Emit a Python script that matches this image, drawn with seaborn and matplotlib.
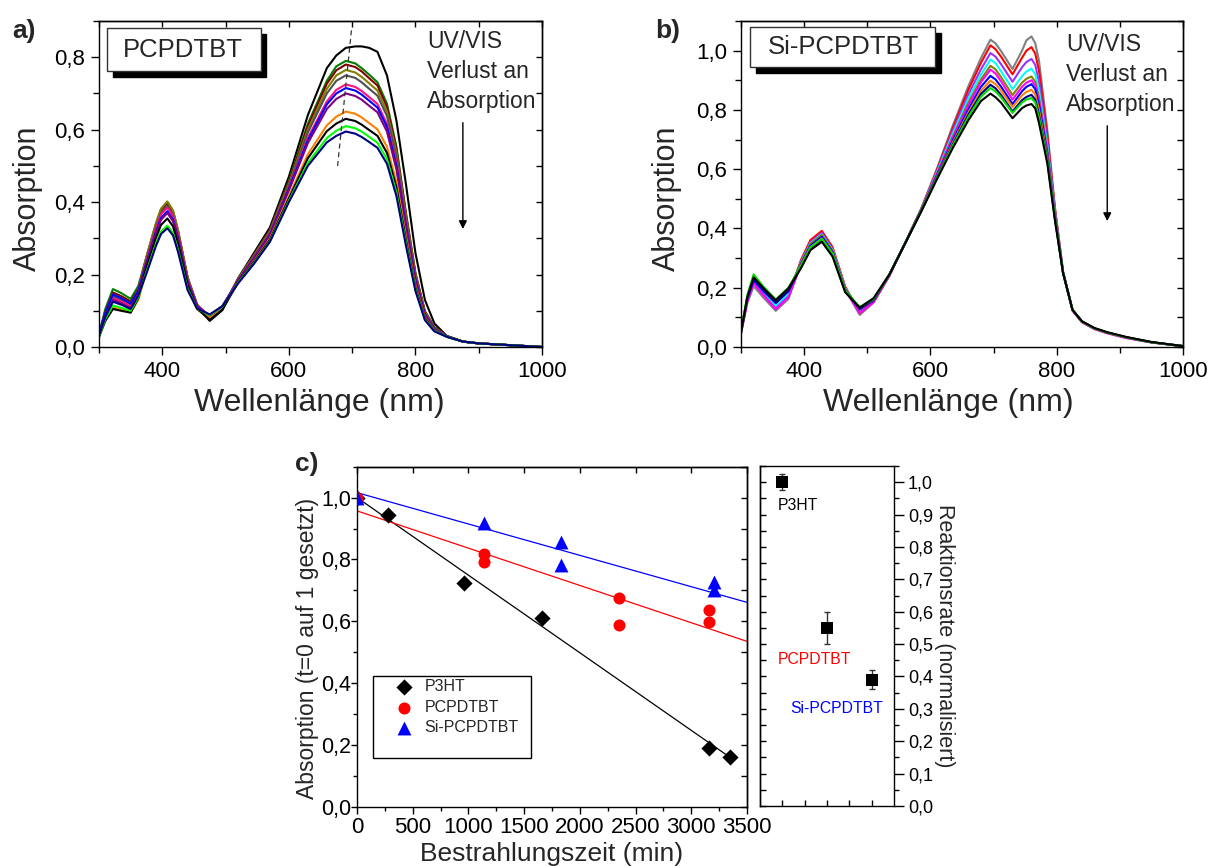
import matplotlib
matplotlib.use("Agg")
import numpy as np
import pandas as pd
import matplotlib.pyplot as plt
import seaborn as sns
from matplotlib.ticker import MultipleLocator, FuncFormatter, FixedLocator
from matplotlib.patches import Rectangle

# ---------------- panel a: PCPDTBT spectra ----------------
wl_a = [300, 310, 322, 335, 350, 362, 375, 390, 398, 408, 417, 425, 440, 455, 475, 495, 520,
        545, 570, 600, 630, 660, 675, 690, 705,
        715, 727, 740, 755, 770, 785, 800, 815, 830, 850, 875, 900, 950, 1000]
a_01 = [0.03, 0.10, 0.15, 0.14, 0.125, 0.16, 0.242, 0.332, 0.37, 0.39, 0.365, 0.312, 0.187, 0.113, 0.072, 0.102, 0.19,
        0.26, 0.33, 0.47, 0.64, 0.77, 0.805, 0.826, 0.83,
        0.83, 0.826, 0.815, 0.75, 0.625, 0.45, 0.26, 0.13, 0.065, 0.03, 0.015, 0.01, 0.005, 0.0]
a_02 = [0.035, 0.105, 0.16, 0.149, 0.133, 0.168, 0.248, 0.34, 0.38, 0.40, 0.375, 0.32, 0.192, 0.116, 0.075, 0.105, 0.19,
        0.255, 0.323, 0.458, 0.616, 0.735, 0.775, 0.79, 0.783,
        0.77, 0.752, 0.731, 0.672, 0.553, 0.371, 0.205, 0.099, 0.055, 0.03, 0.015, 0.01, 0.005, 0.0]
a_03 = [0.03, 0.098, 0.15, 0.14, 0.125, 0.16, 0.247, 0.338, 0.378, 0.398, 0.373, 0.318, 0.191, 0.116, 0.078, 0.107, 0.188,
        0.254, 0.322, 0.455, 0.61, 0.727, 0.764, 0.78, 0.773,
        0.761, 0.742, 0.722, 0.663, 0.546, 0.367, 0.203, 0.098, 0.054, 0.03, 0.015, 0.01, 0.005, 0.0]
a_04 = [0.03, 0.095, 0.145, 0.135, 0.12, 0.157, 0.25, 0.342, 0.382, 0.402, 0.377, 0.322, 0.193, 0.118, 0.08, 0.108, 0.188,
        0.252, 0.319, 0.45, 0.60, 0.713, 0.75, 0.765, 0.758,
        0.746, 0.728, 0.708, 0.65, 0.536, 0.36, 0.199, 0.096, 0.053, 0.03, 0.015, 0.01, 0.005, 0.0]
a_05 = [0.03, 0.092, 0.14, 0.13, 0.117, 0.153, 0.242, 0.332, 0.37, 0.39, 0.365, 0.312, 0.187, 0.115, 0.08, 0.108, 0.186,
        0.25, 0.316, 0.446, 0.592, 0.70, 0.735, 0.75, 0.743,
        0.731, 0.713, 0.694, 0.638, 0.525, 0.353, 0.195, 0.094, 0.052, 0.03, 0.015, 0.01, 0.005, 0.0]
a_06 = [0.03, 0.09, 0.135, 0.126, 0.113, 0.15, 0.239, 0.327, 0.366, 0.385, 0.361, 0.308, 0.185, 0.115, 0.085, 0.112, 0.186,
        0.247, 0.312, 0.439, 0.577, 0.678, 0.71, 0.725, 0.718,
        0.707, 0.69, 0.671, 0.616, 0.508, 0.341, 0.189, 0.091, 0.05, 0.029, 0.015, 0.01, 0.005, 0.0]
a_07 = [0.035, 0.095, 0.145, 0.135, 0.12, 0.155, 0.233, 0.319, 0.356, 0.375, 0.352, 0.30, 0.18, 0.113, 0.085, 0.112, 0.184,
        0.245, 0.31, 0.436, 0.571, 0.67, 0.70, 0.715, 0.708,
        0.697, 0.68, 0.661, 0.608, 0.50, 0.336, 0.186, 0.089, 0.05, 0.029, 0.015, 0.01, 0.005, 0.0]
a_08 = [0.03, 0.086, 0.13, 0.121, 0.108, 0.146, 0.229, 0.315, 0.351, 0.37, 0.347, 0.296, 0.178, 0.112, 0.087, 0.113, 0.184,
        0.244, 0.308, 0.432, 0.563, 0.657, 0.685, 0.70, 0.693,
        0.683, 0.666, 0.648, 0.595, 0.49, 0.329, 0.182, 0.088, 0.049, 0.029, 0.015, 0.01, 0.005, 0.0]
a_09 = [0.028, 0.075, 0.11, 0.104, 0.095, 0.13, 0.208, 0.285, 0.318, 0.335, 0.314, 0.268, 0.161, 0.104, 0.08, 0.105, 0.178,
        0.237, 0.299, 0.416, 0.532, 0.612, 0.636, 0.65, 0.644,
        0.634, 0.618, 0.601, 0.553, 0.455, 0.306, 0.169, 0.081, 0.046, 0.028, 0.015, 0.01, 0.005, 0.0]
a_10 = [0.028, 0.072, 0.105, 0.10, 0.095, 0.135, 0.22, 0.302, 0.337, 0.355, 0.333, 0.284, 0.17, 0.106, 0.075, 0.103, 0.18,
        0.235, 0.296, 0.41, 0.521, 0.596, 0.617, 0.63, 0.624,
        0.614, 0.599, 0.583, 0.536, 0.441, 0.296, 0.164, 0.079, 0.045, 0.028, 0.015, 0.01, 0.005, 0.0]
a_11 = [0.03, 0.078, 0.115, 0.108, 0.10, 0.138, 0.208, 0.285, 0.318, 0.335, 0.314, 0.268, 0.161, 0.106, 0.088, 0.112, 0.178,
        0.232, 0.292, 0.404, 0.508, 0.577, 0.597, 0.61, 0.604,
        0.595, 0.58, 0.564, 0.519, 0.427, 0.287, 0.159, 0.076, 0.044, 0.028, 0.015, 0.01, 0.005, 0.0]
a_12 = [0.032, 0.083, 0.125, 0.117, 0.105, 0.142, 0.203, 0.279, 0.312, 0.328, 0.308, 0.262, 0.157, 0.106, 0.09, 0.113, 0.176,
        0.23, 0.29, 0.40, 0.50, 0.565, 0.583, 0.595, 0.589,
        0.58, 0.566, 0.55, 0.506, 0.417, 0.28, 0.155, 0.074, 0.043, 0.028, 0.015, 0.01, 0.005, 0.0]
spectra_a = [a_01, a_02, a_03, a_04, a_05, a_06, a_07, a_08, a_09, a_10, a_11, a_12]
colors_a = ["#000000", "#008000", "#800000", "#808000", "#505050", "#FF1080",
            "#0000FF", "#800080", "#FF8000", "#000000", "#00FF00", "#000080"]

# ---------------- panel b: Si-PCPDTBT spectra ----------------
wl_b = [300, 310, 320, 335, 355, 375, 395, 410, 428, 445, 465, 488,
        510, 535, 560, 585, 610, 635, 660, 680,
        695, 703, 712, 730, 745, 752, 760, 766, 772, 785, 797, 810, 825, 840, 860, 880, 910, 950, 1000]
b_01 = [0.045, 0.148, 0.205, 0.168, 0.122, 0.162, 0.281, 0.345, 0.375, 0.323, 0.195, 0.108,
        0.15, 0.24, 0.352, 0.465, 0.60, 0.745, 0.88, 0.975,
        1.037, 1.025, 0.998, 0.938, 1.0, 1.035, 1.048, 1.025, 0.965, 0.734, 0.476, 0.255, 0.125, 0.085, 0.062, 0.048, 0.032, 0.016, 0.003]
b_02 = [0.05, 0.158, 0.22, 0.18, 0.13, 0.17, 0.294, 0.361, 0.392, 0.337, 0.204, 0.115,
        0.152, 0.241, 0.352, 0.464, 0.596, 0.737, 0.868, 0.959,
        1.018, 1.005, 0.979, 0.92, 0.976, 1.0, 1.012, 0.99, 0.931, 0.716, 0.468, 0.254, 0.125, 0.085, 0.062, 0.048, 0.032, 0.016, 0.003]
b_03 = [0.05, 0.162, 0.225, 0.185, 0.135, 0.175, 0.289, 0.354, 0.385, 0.331, 0.2, 0.118,
        0.154, 0.242, 0.351, 0.463, 0.591, 0.727, 0.852, 0.937,
        0.992, 0.98, 0.954, 0.895, 0.944, 0.962, 0.972, 0.952, 0.894, 0.696, 0.46, 0.253, 0.125, 0.085, 0.062, 0.048, 0.032, 0.016, 0.003]
b_04 = [0.05, 0.164, 0.228, 0.189, 0.14, 0.18, 0.285, 0.35, 0.38, 0.327, 0.198, 0.122,
        0.155, 0.243, 0.351, 0.462, 0.587, 0.718, 0.838, 0.919,
        0.97, 0.958, 0.93, 0.87, 0.914, 0.93, 0.939, 0.92, 0.864, 0.68, 0.454, 0.252, 0.125, 0.085, 0.062, 0.048, 0.032, 0.016, 0.003]
b_05 = [0.05, 0.166, 0.23, 0.195, 0.15, 0.19, 0.284, 0.348, 0.378, 0.325, 0.197, 0.125,
        0.156, 0.243, 0.351, 0.461, 0.583, 0.709, 0.824, 0.903,
        0.949, 0.937, 0.91, 0.85, 0.892, 0.905, 0.913, 0.895, 0.84, 0.667, 0.449, 0.252, 0.125, 0.085, 0.062, 0.048, 0.032, 0.016, 0.003]
b_06 = [0.045, 0.155, 0.215, 0.176, 0.128, 0.168, 0.278, 0.34, 0.37, 0.318, 0.192, 0.115,
        0.152, 0.241, 0.351, 0.461, 0.581, 0.704, 0.816, 0.894,
        0.936, 0.923, 0.896, 0.835, 0.878, 0.892, 0.90, 0.883, 0.828, 0.66, 0.446, 0.25, 0.122, 0.083, 0.06, 0.046, 0.03, 0.015, 0.003]
b_07 = [0.05, 0.162, 0.225, 0.19, 0.148, 0.188, 0.279, 0.342, 0.372, 0.32, 0.193, 0.127,
        0.157, 0.244, 0.35, 0.46, 0.577, 0.695, 0.802, 0.878,
        0.915, 0.903, 0.878, 0.82, 0.863, 0.878, 0.887, 0.87, 0.816, 0.654, 0.443, 0.25, 0.125, 0.085, 0.062, 0.048, 0.032, 0.016, 0.003]
b_08 = [0.05, 0.169, 0.235, 0.198, 0.155, 0.195, 0.275, 0.337, 0.366, 0.315, 0.19, 0.13,
        0.158, 0.244, 0.35, 0.459, 0.573, 0.688, 0.791, 0.865,
        0.899, 0.887, 0.865, 0.81, 0.849, 0.861, 0.868, 0.852, 0.799, 0.644, 0.44, 0.25, 0.125, 0.085, 0.062, 0.048, 0.032, 0.016, 0.003]
b_09 = [0.05, 0.167, 0.232, 0.194, 0.15, 0.19, 0.27, 0.331, 0.36, 0.31, 0.187, 0.13,
        0.159, 0.245, 0.35, 0.458, 0.571, 0.682, 0.784, 0.854,
        0.885, 0.873, 0.85, 0.795, 0.833, 0.844, 0.851, 0.835, 0.783, 0.636, 0.436, 0.25, 0.125, 0.086, 0.063, 0.049, 0.033, 0.016, 0.003]
b_10 = [0.052, 0.176, 0.245, 0.205, 0.16, 0.2, 0.274, 0.336, 0.365, 0.314, 0.19, 0.135,
        0.162, 0.246, 0.35, 0.457, 0.569, 0.678, 0.777, 0.845,
        0.874, 0.862, 0.842, 0.79, 0.825, 0.835, 0.84, 0.825, 0.773, 0.63, 0.434, 0.25, 0.125, 0.086, 0.063, 0.049, 0.033, 0.016, 0.003]
b_11 = [0.05, 0.169, 0.235, 0.2, 0.158, 0.198, 0.266, 0.327, 0.355, 0.305, 0.185, 0.133,
        0.165, 0.245, 0.35, 0.455, 0.565, 0.67, 0.765, 0.83,
        0.855, 0.843, 0.824, 0.772, 0.806, 0.815, 0.82, 0.805, 0.755, 0.62, 0.43, 0.25, 0.125, 0.087, 0.064, 0.05, 0.034, 0.017, 0.003]
spectra_b = [b_01, b_02, b_03, b_04, b_05, b_06, b_07, b_08, b_09, b_10, b_11]
colors_b = ["#808080", "#FF0000", "#9933FF", "#00FFFF", "#808000", "#FF00FF",
            "#0000FF", "#FF8000", "#000080", "#00DD00", "#000000"]

# ---------------- panel c: normalised absorption vs. time ----------------
t_p3ht = [0, 282, 962, 1663, 3159, 3350]
abs_p3ht = [1.0, 0.944, 0.725, 0.610, 0.190, 0.162]
t_pcpdtbt = [0, 1139, 1139, 2352, 2352, 3159, 3159]
abs_pcpdtbt = [1.0, 0.817, 0.793, 0.675, 0.587, 0.635, 0.598]
t_si = [0, 1139, 1828, 1828, 3206, 3206]
abs_si = [1.0, 0.917, 0.855, 0.782, 0.728, 0.700]
# linear fits: intercept, slope (1/min), end of fitted range (min)
fit_p3ht = (1.0, -2.51e-4, 3380)
fit_pcpdtbt = (0.957, -1.206e-4, 3500)
fit_si = (1.016, -1.014e-4, 3500)

# ---------------- panel d: normalised reaction rates ----------------
rate_names = ["P3HT", "PCPDTBT", "Si-PCPDTBT"]
rate_pos = [1, 2, 3]
rate_vals = [1.0, 0.55, 0.39]
rate_errs = [0.025, 0.05, 0.03]
rate_colors = ["#000000", "#FF0000", "#0000FF"]

# ---------------- style ----------------
sns.set_theme(style="ticks")
plt.rcParams["font.family"] = ["Liberation Sans", "DejaVu Sans"]
plt.rcParams["axes.linewidth"] = 1.0
plt.rcParams["axes.edgecolor"] = "black"
plt.rcParams["xtick.color"] = "black"
plt.rcParams["ytick.color"] = "black"

comma1 = FuncFormatter(lambda v, p: f"{v:.1f}".replace(".", ","))
intfmt = FuncFormatter(lambda v, p: f"{v:.0f}")

fig = plt.figure(figsize=(12.11, 8.66), dpi=100)
ax_a = fig.add_axes([0.08175, 0.5993, 0.3658, 0.3764])
ax_b = fig.add_axes([0.6119, 0.5993, 0.3650, 0.3764])
ax_c = fig.add_axes([0.2948, 0.0685, 0.3220, 0.3926])
ax_d = fig.add_axes([0.6276, 0.0693, 0.1107, 0.3926])


def mirror_ticks(ax, xstep, ystep, yside="right"):
    sx = ax.secondary_xaxis("top")
    sx.xaxis.set_major_locator(MultipleLocator(xstep))
    sx.tick_params(axis="x", direction="in", length=4, width=1, labeltop=False)
    sy = ax.secondary_yaxis(yside)
    sy.yaxis.set_major_locator(MultipleLocator(ystep))
    sy.tick_params(axis="y", direction="in", length=4, width=1,
                   labelright=False, labelleft=False)


def draw_spectra(ax, wl, curves, colors):
    rows = []
    for i, c in enumerate(curves):
        rows.append(pd.DataFrame({"wl": wl, "A": c, "curve": f"s{i:02d}"}))
    df = pd.concat(rows, ignore_index=True)
    sns.lineplot(data=df, x="wl", y="A", hue="curve", palette=colors,
                 estimator=None, sort=False, legend=False, lw=1.5, ax=ax)


def spectrum_axes(ax, ymax, xlab_x):
    ax.set_xlim(300, 1000)
    ax.set_ylim(0, ymax)
    ax.xaxis.set_major_locator(FixedLocator([400, 600, 800, 1000]))
    ax.xaxis.set_minor_locator(MultipleLocator(100))
    ax.yaxis.set_major_locator(MultipleLocator(0.2))
    ax.yaxis.set_minor_locator(MultipleLocator(0.1))
    ax.xaxis.set_major_formatter(intfmt)
    ax.yaxis.set_major_formatter(comma1)
    ax.tick_params(which="major", direction="out", length=6, width=1, labelsize=16, pad=4)
    ax.tick_params(which="minor", direction="out", length=4, width=1)
    mirror_ticks(ax, 100, 0.1)
    ax.set_xlabel("Wellenlänge (nm)", fontsize=23, va="top")
    ax.xaxis.set_label_coords(xlab_x, -0.125)
    ax.set_ylabel("Absorption", fontsize=22, va="center", ha="center",
                  rotation_mode="default")


def shadow_box(ax, x0, y0, x1, y1, dx, dy, label, tx, ty, size):
    ax.add_patch(Rectangle((x0 + dx, y0 - dy), x1 - x0, y1 - y0, transform=ax.transAxes,
                           facecolor="black", edgecolor="black", zorder=5, clip_on=False))
    ax.add_patch(Rectangle((x0, y0), x1 - x0, y1 - y0, transform=ax.transAxes,
                           facecolor="white", edgecolor="#333333", lw=1.0, zorder=6, clip_on=False))
    ax.text(tx, ty, label, transform=ax.transAxes, fontsize=size, ha="center",
            va="center", zorder=7)


# panel a
draw_spectra(ax_a, wl_a, spectra_a, colors_a)
spectrum_axes(ax_a, 0.9, 0.498)
ax_a.yaxis.set_label_coords(-0.160, 0.455)
ax_a.plot([677, 699], [0.50, 0.876], ls=(0, (4, 3)), color="#333333", lw=0.9)
ax_a.text(818, 0.874, "UV/VIS\nVerlust an\nAbsorption", fontsize=16.5, ha="left",
          va="top", linespacing=1.38)
ax_a.annotate("", xy=(875, 0.318), xytext=(875, 0.627),
              arrowprops=dict(arrowstyle="-|>", color="black", lw=1.0, mutation_scale=12))
shadow_box(ax_a, 0.0174, 0.8466, 0.3646, 0.9776, 0.0135, 0.0169, "PCPDTBT", 0.189, 0.911, 18.5)

# panel b
draw_spectra(ax_b, wl_b, spectra_b, colors_b)
spectrum_axes(ax_b, 1.1, 0.47)
ax_b.yaxis.set_label_coords(-0.1665, 0.455)
ax_b.text(815, 1.06, "UV/VIS\nVerlust an\nAbsorption", fontsize=16.5, ha="left",
          va="top", linespacing=1.38)
ax_b.annotate("", xy=(880, 0.4155), xytext=(880, 0.756),
              arrowprops=dict(arrowstyle="-|>", color="black", lw=1.0, mutation_scale=12))
shadow_box(ax_b, 0.020, 0.858, 0.439, 0.981, 0.0135, 0.0169, "Si-PCPDTBT", 0.231, 0.919, 18.5)

# panel c
for (fit, col) in [(fit_p3ht, "black"), (fit_pcpdtbt, "#FF0000"), (fit_si, "#0000FF")]:
    xs = np.array([0.0, fit[2]])
    ax_c.plot(xs, fit[0] + fit[1] * xs, color=col, lw=0.9, zorder=2)

sns.scatterplot(x=t_p3ht, y=abs_p3ht, marker="D", s=68, color="black", linewidth=0,
                label="P3HT", ax=ax_c, zorder=3)
sns.scatterplot(x=t_pcpdtbt, y=abs_pcpdtbt, marker="o", s=75, color="#FF0000", linewidth=0,
                label="PCPDTBT", ax=ax_c, zorder=3)
sns.scatterplot(x=t_si, y=abs_si, marker="^", s=100, color="#0000FF", linewidth=0,
                label="Si-PCPDTBT", ax=ax_c, zorder=3)

ax_c.set_xlim(0, 3500)
ax_c.set_ylim(0, 1.1)
ax_c.xaxis.set_major_locator(MultipleLocator(500))
ax_c.xaxis.set_minor_locator(MultipleLocator(250))
ax_c.yaxis.set_major_locator(MultipleLocator(0.2))
ax_c.yaxis.set_minor_locator(MultipleLocator(0.1))
ax_c.xaxis.set_major_formatter(intfmt)
ax_c.yaxis.set_major_formatter(comma1)
ax_c.tick_params(axis="x", which="major", direction="out", length=5, width=1, labelsize=16, pad=2.5)
ax_c.tick_params(axis="y", which="major", direction="out", length=4, width=1, labelsize=15.5, pad=0.5)
ax_c.tick_params(which="minor", direction="out", length=3, width=1)
mirror_ticks(ax_c, 500, 0.1)
ax_c.set_xlabel("Bestrahlungszeit (min)", fontsize=19, va="top")
ax_c.xaxis.set_label_coords(0.5, -0.105)
ax_c.set_ylabel("Absorption (t=0 auf 1 gesetzt)", fontsize=16.5, va="center", ha="center",
                rotation_mode="default")
ax_c.yaxis.set_label_coords(-0.128, 0.464)

leg = ax_c.legend(loc="upper left", bbox_to_anchor=(0.10, 0.375), frameon=False,
                  fontsize=11.5, handlelength=1.0, handletextpad=0.8, borderpad=0.0,
                  labelspacing=0.35, borderaxespad=0.0)
ax_c.add_patch(Rectangle((0.0418, 0.142), 0.405, 0.243, transform=ax_c.transAxes,
                         facecolor="none", edgecolor="black", lw=1.0, zorder=4))

# panel d
ax_d.errorbar(rate_pos, rate_vals, yerr=rate_errs, fmt="none", ecolor="#333333",
              elinewidth=1.0, capsize=2.5, capthick=1.0, zorder=3)
sns.scatterplot(x=rate_pos, y=rate_vals, marker="s", s=72, color="black", linewidth=0,
                ax=ax_d, zorder=4)
ax_d.set_xlim(0.5, 3.5)
ax_d.set_ylim(0, 1.05)
ax_d.xaxis.set_major_locator(FixedLocator([1, 1.5, 2, 2.5, 3]))
ax_d.tick_params(axis="x", direction="in", length=4, width=1, labelbottom=False)
ax_d.yaxis.tick_right()
ax_d.yaxis.set_major_locator(MultipleLocator(0.1))
ax_d.yaxis.set_minor_locator(MultipleLocator(0.05))
ax_d.yaxis.set_major_formatter(comma1)
ax_d.tick_params(axis="y", which="major", direction="out", length=7, width=1, labelsize=13, pad=3)
ax_d.tick_params(axis="y", which="minor", direction="out", length=3.5, width=1)
sy = ax_d.secondary_yaxis("left")
sy.yaxis.set_major_locator(MultipleLocator(0.05))
sy.tick_params(axis="y", direction="in", length=4, width=1, labelleft=False)
ax_d.yaxis.set_label_position("right")
ax_d.set_ylabel("Reaktionsrate (normalisiert)", fontsize=15.5, rotation=270,
                va="center", ha="center", rotation_mode="default")
ax_d.yaxis.set_label_coords(1.377, 0.5)
rate_text_xy = [(0.90, 0.928), (0.90, 0.453), (1.17, 0.302)]
for name, col, (tx, ty) in zip(rate_names, rate_colors, rate_text_xy):
    ax_d.text(tx, ty, name, color=col, fontsize=11.3, ha="left", va="center")

# panel letters
fig.text(0.010, 0.978, "a)", fontsize=19, fontweight="bold", va="top")
fig.text(0.541, 0.978, "b)", fontsize=19, fontweight="bold", va="top")
fig.text(0.244, 0.478, "c)", fontsize=19, fontweight="bold", va="top")

fig.savefig("out.png", dpi=100)
